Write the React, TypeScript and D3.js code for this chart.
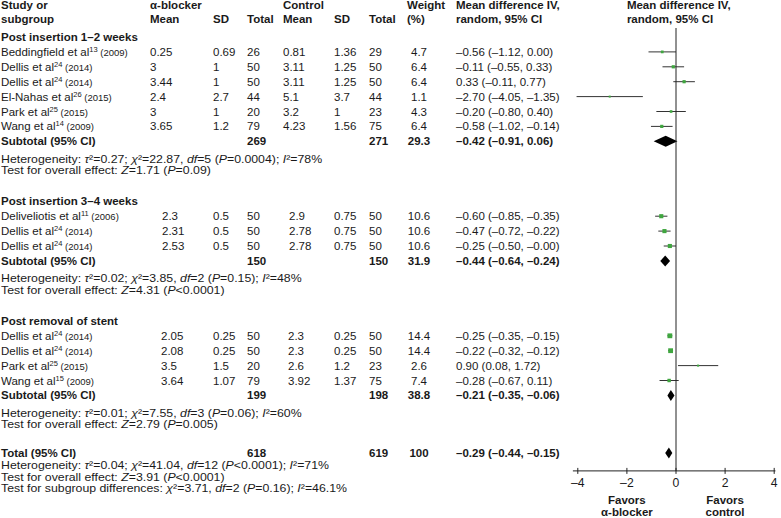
import React from "react";
import * as d3 from "d3";

// ---- data ----
const groupNames = ["Post insertion 1–2 weeks", "Post insertion 3–4 weeks", "Post removal of stent"];

const studyAuthor = [
  "Beddingfield et al", "Dellis et al", "Dellis et al", "El-Nahas et al", "Park et al", "Wang et al",
  "Deliveliotis et al", "Dellis et al", "Dellis et al",
  "Dellis et al", "Dellis et al", "Park et al", "Wang et al",
];
const studyRef = ["13", "24", "24", "26", "25", "14", "11", "24", "24", "24", "24", "25", "15"];
const studyYear = ["(2009)", "(2014)", "(2014)", "(2015)", "(2015)", "(2009)", "(2006)", "(2014)", "(2014)", "(2014)", "(2014)", "(2015)", "(2009)"];
const studyGroup = [0, 0, 0, 0, 0, 0, 1, 1, 1, 2, 2, 2, 2];

const expMean = ["0.25", "3", "3.44", "2.4", "3", "3.65", "2.3", "2.31", "2.53", "2.05", "2.08", "3.5", "3.64"];
const expSD = ["0.69", "1", "1", "2.7", "1", "1.2", "0.5", "0.5", "0.5", "0.25", "0.25", "1.5", "1.07"];
const expN = [26, 50, 50, 44, 20, 79, 50, 50, 50, 50, 50, 20, 79];
const ctlMean = ["0.81", "3.11", "3.11", "5.1", "3.2", "4.23", "2.9", "2.78", "2.78", "2.3", "2.3", "2.6", "3.92"];
const ctlSD = ["1.36", "1.25", "1.25", "3.7", "1", "1.56", "0.75", "0.75", "0.75", "0.25", "0.25", "1.2", "1.37"];
const ctlN = [29, 50, 50, 44, 23, 75, 50, 50, 50, 50, 50, 23, 75];
const weight = ["4.7", "6.4", "6.4", "1.1", "4.3", "6.4", "10.6", "10.6", "10.6", "14.4", "14.4", "2.6", "7.4"];
const md = [-0.56, -0.11, 0.33, -2.7, -0.2, -0.58, -0.6, -0.47, -0.25, -0.25, -0.22, 0.9, -0.28];
const ciLow = [-1.12, -0.55, -0.11, -4.05, -0.8, -1.02, -0.85, -0.72, -0.5, -0.35, -0.32, 0.08, -0.67];
const ciHigh = [0.0, 0.33, 0.77, -1.35, 0.4, -0.14, -0.35, -0.22, -0, -0.15, -0.12, 1.72, 0.11];

const subExpN = [269, 150, 199];
const subCtlN = [271, 150, 198];
const subWeight = ["29.3", "31.9", "38.8"];
const subMd = [-0.42, -0.44, -0.21];
const subLow = [-0.91, -0.64, -0.35];
const subHigh = [0.06, -0.24, -0.06];
const subTau2 = ["0.27", "0.02", "0.01"];
const subChi2 = ["22.87", "3.85", "7.55"];
const subDf = ["5", "2", "3"];
const subHetP = ["=0.0004", "=0.15", "=0.06"];
const subI2 = ["78%", "48%", "60%"];
const subZ = ["1.71", "4.31", "2.79"];
const subZP = ["=0.09", "<0.0001", "=0.005"];

const totalExpN = 618;
const totalCtlN = 619;
const totalWeight = "100";
const totalMd = -0.29;
const totalLow = -0.44;
const totalHigh = -0.15;
const totalHet = { tau2: "0.04", chi2: "41.04", df: "12", p: "<0.0001", i2: "71%" };
const totalZ = { z: "3.91", p: "<0.0001" };
const subgroupDiff = { chi2: "3.71", df: "2", p: "=0.16", i2: "46.1%" };

const axisTicks = [-4, -2, 0, 2, 4];

// ---- layout ----
const W = 781;
const H = 518;
const FS = 11.5;
const FN = 10.8; // footnote lines, drawn a bit wide
const FN_STRETCH = 1.14;
const P = 14.9;
const font = "'Liberation Sans', Arial, sans-serif";

const colStudy = 1;
const colExpMean = [150, 162, 161];
const colExpSD = 213;
const colExpN = 247;
const colCtlMean = [283, 289, 288];
const colCtlSD = 334;
const colCtlN = 369;
const colWeight = 419;
const colMD = 456;

const x = d3.scaleLinear().domain([-4, 4]).range([577.8, 774.2]);
const side = d3.scaleSqrt().domain([0, 15]).range([0, 4.9]);

const fmt = (v: number) => (v < 0 || Object.is(v, -0) ? "–" : "") + Math.abs(v).toFixed(2);
const ciText = (m: number, l: number, h: number) => `${fmt(m)} (${fmt(l)}, ${fmt(h)})`;

const I = ({ children }: { children: React.ReactNode }) => <tspan fontStyle="italic">{children}</tspan>;
const Sup = ({ children }: { children: React.ReactNode }) => (
  <tspan fontSize={7.5} dy={-4}>{children}</tspan>
);
const Note = ({ y, children }: { y: number; children: React.ReactNode }) => (
  <text transform={`translate(${colStudy},${y}) scale(${FN_STRETCH},1)`} fontSize={FN}>{children}</text>
);

const diamond = (lo: number, m: number, hi: number, cy: number, h: number) =>
  `M${x(lo)},${cy}L${x(m)},${cy - h}L${x(hi)},${cy}L${x(m)},${cy + h}Z`;

export default function App() {
  // vertical positions (baselines)
  const hdr = [9, 23];
  let y = hdr[1];
  const groupY: number[] = [];
  const studyY: number[] = [];
  const subY: number[] = [];
  const hetY: number[] = [];
  const testY: number[] = [];
  groupNames.forEach((_, g) => {
    y += g === 0 ? 18 : 31;
    groupY.push(y);
    studyGroup.forEach((sg, i) => {
      if (sg === g) {
        y += P;
        studyY[i] = y;
      }
    });
    y += P;
    subY.push(y);
    y += 17.5;
    hetY.push(y);
    y += 11.5;
    testY.push(y);
  });
  const totalY = y + 28.5;
  const totHetY = totalY + 12.5;
  const totTestY = totHetY + 11.5;
  const subDiffY = totTestY + 11.5;

  const axisY = totalY + 14;
  const zeroTop = 28;

  return (
    <svg width={W} height={H} style={{ position: "absolute", left: 0, top: 0, background: "#fff" }}
      fontFamily={font} fontSize={FS} fill="#1a1a1a">
      {/* header */}
      <g fontWeight="bold">
        <text x={colStudy} y={hdr[0]}>Study or</text>
        <text x={colStudy} y={hdr[1]}>subgroup</text>
        <text x={colExpMean[0]} y={hdr[0]}>α-blocker</text>
        <text x={colExpMean[0]} y={hdr[1]}>Mean</text>
        <text x={colExpSD} y={hdr[1]}>SD</text>
        <text x={colExpN} y={hdr[1]}>Total</text>
        <text x={colCtlMean[0]} y={hdr[0]}>Control</text>
        <text x={colCtlMean[0]} y={hdr[1]}>Mean</text>
        <text x={colCtlSD} y={hdr[1]}>SD</text>
        <text x={colCtlN} y={hdr[1]}>Total</text>
        <text x={407} y={hdr[0]}>Weight</text>
        <text x={407} y={hdr[1]}>(%)</text>
        <text x={colMD} y={hdr[0]}>Mean difference IV,</text>
        <text x={colMD} y={hdr[1]}>random, 95% CI</text>
        <text x={x(-2)} y={hdr[0]}>Mean difference IV,</text>
        <text x={x(-2)} y={hdr[1]}>random, 95% CI</text>
      </g>

      {groupNames.map((name, g) => (
        <g key={name}>
          <text x={colStudy} y={groupY[g]} fontWeight="bold">{name}</text>
          <g fontWeight="bold">
            <text x={colStudy} y={subY[g]}>Subtotal (95% CI)</text>
            <text x={colExpN} y={subY[g]}>{subExpN[g]}</text>
            <text x={colCtlN} y={subY[g]}>{subCtlN[g]}</text>
            <text x={colWeight} y={subY[g]} textAnchor="middle">{subWeight[g]}</text>
            <text x={colMD} y={subY[g]}>{ciText(subMd[g], subLow[g], subHigh[g])}</text>
          </g>
          <Note y={hetY[g]}>
            Heterogeneity: <I>τ</I>²={subTau2[g]}; <I>χ</I>²={subChi2[g]}, <I>df</I>={subDf[g]} (<I>P</I>{subHetP[g]}); <I>I</I>²={subI2[g]}
          </Note>
          <Note y={testY[g]}>
            Test for overall effect: <I>Z</I>={subZ[g]} (<I>P</I>{subZP[g]})
          </Note>
          <path d={diamond(subLow[g], subMd[g], subHigh[g], subY[g] - 4, 5.5)} fill="#000" />
        </g>
      ))}

      {studyAuthor.map((a, i) => {
        const g = studyGroup[i];
        const yy = studyY[i];
        const s = Math.max(2, side(+weight[i]));
        return (
          <g key={i}>
            <text x={colStudy} y={yy}>
              {a}<Sup>{studyRef[i]}</Sup>
              <tspan dy={4} fontSize={9.5}>{" " + studyYear[i]}</tspan>
            </text>
            <text x={colExpMean[g]} y={yy}>{expMean[i]}</text>
            <text x={colExpSD} y={yy}>{expSD[i]}</text>
            <text x={colExpN} y={yy}>{expN[i]}</text>
            <text x={colCtlMean[g]} y={yy}>{ctlMean[i]}</text>
            <text x={colCtlSD} y={yy}>{ctlSD[i]}</text>
            <text x={colCtlN} y={yy}>{ctlN[i]}</text>
            <text x={colWeight} y={yy} textAnchor="middle">{weight[i]}</text>
            <text x={colMD} y={yy}>{ciText(md[i], ciLow[i], ciHigh[i])}</text>
            <line x1={x(ciLow[i])} x2={x(ciHigh[i])} y1={yy - 4} y2={yy - 4} stroke="#333" strokeWidth={1} />
            <rect x={x(md[i]) - s / 2} y={yy - 4 - s / 2} width={s} height={s} fill="#3fa63f" />
          </g>
        );
      })}

      {/* overall */}
      <g fontWeight="bold">
        <text x={colStudy} y={totalY}>Total (95% CI)</text>
        <text x={colExpN} y={totalY}>{totalExpN}</text>
        <text x={colCtlN} y={totalY}>{totalCtlN}</text>
        <text x={colWeight} y={totalY} textAnchor="middle">{totalWeight}</text>
        <text x={colMD} y={totalY}>{ciText(totalMd, totalLow, totalHigh)}</text>
      </g>
      <path d={diamond(totalLow, totalMd, totalHigh, totalY - 4, 5.5)} fill="#000" />
      <Note y={totHetY}>
        Heterogeneity: <I>τ</I>²={totalHet.tau2}; <I>χ</I>²={totalHet.chi2}, <I>df</I>={totalHet.df} (<I>P</I>{totalHet.p}); <I>I</I>²={totalHet.i2}
      </Note>
      <Note y={totTestY}>
        Test for overall effect: <I>Z</I>={totalZ.z} (<I>P</I>{totalZ.p})
      </Note>
      <Note y={subDiffY}>
        Test for subgroup differences: <I>χ</I>²={subgroupDiff.chi2}, <I>df</I>={subgroupDiff.df} (<I>P</I>{subgroupDiff.p}); <I>I</I>²={subgroupDiff.i2}
      </Note>

      {/* axis */}
      <line x1={x(0)} x2={x(0)} y1={zeroTop} y2={axisY} stroke="#222" strokeWidth={1} />
      <line x1={x(-4.2)} x2={x(4.05)} y1={axisY} y2={axisY} stroke="#222" strokeWidth={1} />
      {axisTicks.map((t) => (
        <g key={t}>
          <line x1={x(t)} x2={x(t)} y1={axisY - 3} y2={axisY + 3} stroke="#222" />
          <text x={x(t)} y={axisY + 16} textAnchor="middle" fontSize={12.2}>{t < 0 ? "–" + Math.abs(t) : t}</text>
        </g>
      ))}
      <g fontWeight="bold" textAnchor="middle">
        <text x={x(-2)} y={axisY + 33}>Favors</text>
        <text x={x(-2)} y={axisY + 45}>α-blocker</text>
        <text x={x(2)} y={axisY + 33}>Favors</text>
        <text x={x(2)} y={axisY + 45}>control</text>
      </g>
    </svg>
  );
}
